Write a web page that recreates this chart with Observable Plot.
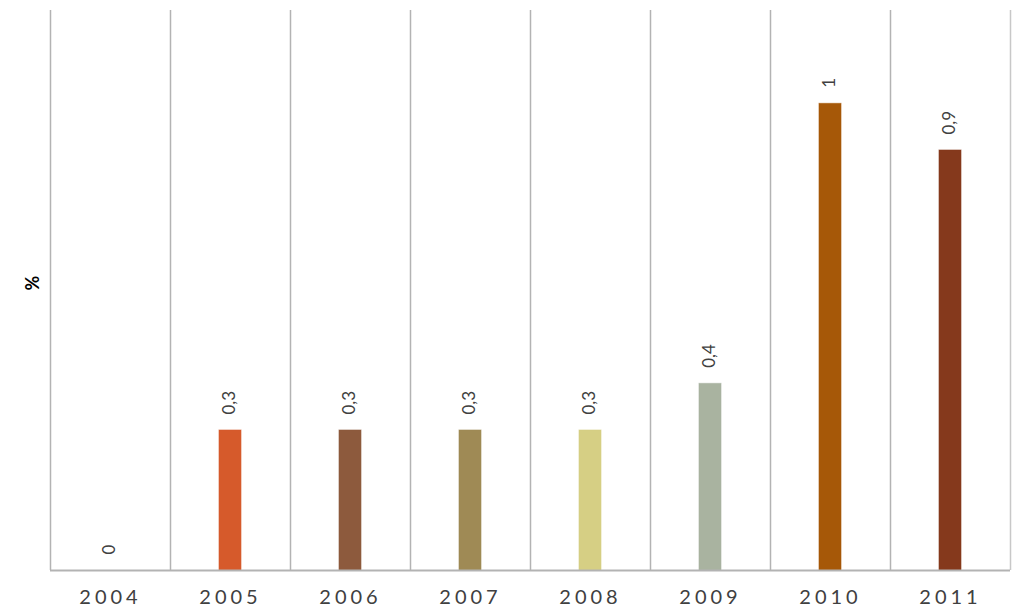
<!DOCTYPE html>
<html>
<head>
<meta charset="utf-8">
<script src="https://cdn.jsdelivr.net/npm/d3@7"></script>
<script src="https://cdn.jsdelivr.net/npm/@observablehq/plot@0.6"></script>
<style>
  html, body { margin: 0; padding: 0; background: #fff; }
  #chart svg { display: block; }
  #chart g[aria-label="values"] text { letter-spacing: 2px; }
  #chart g[aria-label="x-axis tick label"] text { letter-spacing: 4px; }
</style>
</head>
<body>
<div id="chart"></div>
<script>
const years = ["2004", "2005", "2006", "2007", "2008", "2009", "2010", "2011"];
const values = [0, 0.3, 0.3, 0.3, 0.3, 0.4, 1, 0.9];
const colors = ["#cccccc", "#d65a2b", "#8d5a3d", "#9f8a55", "#d6cf84", "#a9b3a0", "#a65808", "#85391c"];
const yLabel = "%";

const data = years.map((year, i) => ({ year, value: values[i], color: colors[i] }));

const W = 1013, H = 610;
const mL = 50, mR = 3, mT = 10, mB = 40;
const step = (W - mL - mR) / years.length;
const fmt = v => String(v).replace(".", ",");
const font = "Lato, 'Open Sans', sans-serif";

const chart = Plot.plot({
  width: W,
  height: H,
  marginLeft: mL,
  marginRight: mR,
  marginTop: mT,
  marginBottom: mB,
  style: { fontFamily: font, background: "#fff", overflow: "visible" },
  x: { domain: years, padding: 0, label: null },
  y: { domain: [0, 1.2], axis: null },
  marks: [
    Plot.ruleX(years, { x: d => d, dx: -step / 2, stroke: "#b3b3b3", strokeWidth: 1.5 }),
    Plot.ruleX([years[years.length - 1]], { x: d => d, dx: step / 2, stroke: "#c8c8c8", strokeWidth: 1.5 }),
    Plot.barY(data, { x: "year", y: "value", fill: "color", stroke: "color", strokeOpacity: 0.6, insetLeft: 49, insetRight: 49 }),
    Plot.ruleY([0], { stroke: "#b3b3b3", strokeWidth: 2 }),
    Plot.text(data, {
      x: "year", y: "value", text: d => fmt(d.value), rotate: -90,
      textAnchor: "start", dy: -16, dx: -1, fontSize: 17, fill: "#404040",
      ariaLabel: "values"
    }),
    Plot.axisX({ tickSize: 0, tickPadding: 19, fontSize: 20, fill: "#404040", label: null }),
    Plot.text([yLabel], { frameAnchor: "left", dx: -17, rotate: -90, fontSize: 18, fill: "#000", fontWeight: "bold" })
  ]
});
document.getElementById("chart").appendChild(chart);
</script>
</body>
</html>
